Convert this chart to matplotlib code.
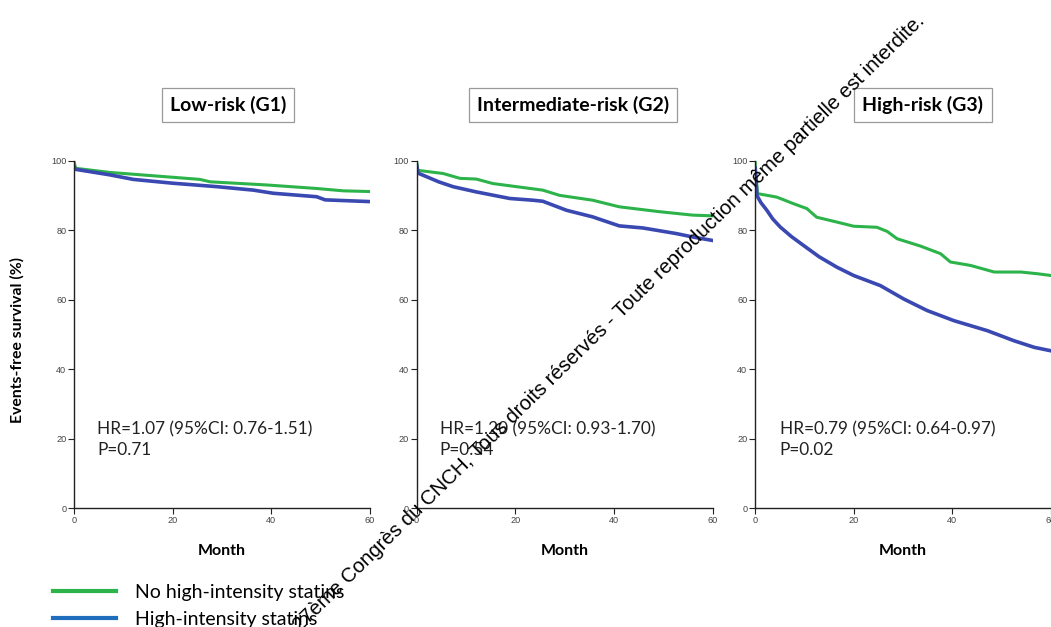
import numpy as np
import matplotlib
matplotlib.use('Agg')
import matplotlib.pyplot as plt
from matplotlib.lines import Line2D

# ---- data (month, event-free survival %) ----
panel_titles = ['Low-risk (G1)', 'Intermediate-risk (G2)', 'High-risk (G3)']
hr_texts = ['HR=1.07 (95%CI: 0.76-1.51)\nP=0.71',
            'HR=1.20 (95%CI: 0.93-1.70)\nP=0.54',
            'HR=0.79 (95%CI: 0.64-0.97)\nP=0.02']
series_names = ['No high-intensity statins', 'High-intensity statins']

g1_no_t = [0, 0.3, 7.3, 20.1, 25.5, 27.6, 39, 49, 54.6, 60]
g1_no_s = [100, 97.9, 96.7, 95.3, 94.7, 94.0, 93.1, 92.1, 91.4, 91.2]
g1_hi_t = [0, 0.3, 7.3, 12, 20, 29, 36.4, 40.4, 49.2, 50.9, 60]
g1_hi_s = [98.5, 97.6, 96.0, 94.7, 93.6, 92.6, 91.6, 90.7, 89.7, 88.8, 88.3]

g2_no_t = [0, 0.3, 5.4, 8.8, 12.1, 15.5, 25.6, 29, 35.7, 41.1, 49.2, 56, 60]
g2_no_s = [100, 97.3, 96.4, 95.0, 94.8, 93.5, 91.6, 90.1, 88.7, 86.8, 85.4, 84.4, 84.2]
g2_hi_t = [0, 0.3, 2, 4.5, 7.4, 12.1, 18.9, 23.6, 25.6, 30.4, 35.7, 41.1, 45.9, 52.6, 56, 60]
g2_hi_s = [99, 96.5, 95.5, 94.0, 92.6, 91.1, 89.2, 88.7, 88.4, 85.8, 83.9, 81.3, 80.7, 79.1, 78.1, 77.1]

g3_no_t = [0, 0.5, 4.4, 7.8, 10.5, 12.5, 16.6, 20, 24.7, 26.8, 28.8, 33.5, 37.6, 39.6,
           43.7, 48.5, 53.9, 57.3, 60]
g3_no_s = [100, 90.6, 89.6, 87.7, 86.3, 83.8, 82.4, 81.2, 80.9, 79.7, 77.6, 75.5, 73.3, 70.9,
           69.9, 68.0, 68.0, 67.5, 67.0]
g3_hi_t = [0, 0.4, 1.2, 2.4, 3.6, 5.1, 7.4, 9.8, 13, 16.6, 20, 25.4, 30.2, 34.9, 40.3,
           47.1, 52.5, 56.6, 60]
g3_hi_s = [98, 90.0, 88.0, 85.8, 83.3, 81.0, 78.2, 75.7, 72.4, 69.4, 67.0, 64.1, 60.2, 56.9,
           54.0, 51.1, 48.2, 46.3, 45.3]

curves = [((g1_no_t, g1_no_s), (g1_hi_t, g1_hi_s)),
          ((g2_no_t, g2_no_s), (g2_hi_t, g2_hi_s)),
          ((g3_no_t, g3_no_s), (g3_hi_t, g3_hi_s))]

x_ticks = [0, 20, 40, 60]
y_ticks = [0, 20, 40, 60, 80, 100]

green = '#2cb34a'
blue = '#3a48b2'
legend_blue = '#1f6dbd'

W, H = 1051, 627
fig = plt.figure(figsize=(W / 100, H / 100), dpi=100, facecolor='white')

ax_left = [74, 416.5, 755]
ax_w = 296
ax_top, ax_bot = 161, 508
title_cx = [228, 573, 923]

for i, left in enumerate(ax_left):
    ax = fig.add_axes([left / W, 1 - ax_bot / H, ax_w / W, (ax_bot - ax_top) / H])
    (nt, ns), (ht, hs) = curves[i]
    ax.plot(nt, ns, color=green, lw=2.2)
    ax.plot(ht, hs, color=blue, lw=2.6)
    ax.set_xlim(0, 60)
    ax.set_ylim(0, 100)
    ax.set_xticks(x_ticks)
    ax.set_yticks(y_ticks)
    for s in ['top', 'right']:
        ax.spines[s].set_visible(False)
    for s in ['left', 'bottom']:
        ax.spines[s].set_linewidth(1.0)
        ax.spines[s].set_color('#222222')
    ax.tick_params(labelsize=6.6, labelcolor='#444444', length=4, width=0.8, pad=1.5,
                   color='#222222')
    for lab in ax.get_xticklabels() + ax.get_yticklabels():
        lab.set_family('Liberation Sans')
    ax.patch.set_alpha(0)

    ax.text(0.078 if i < 2 else 0.084, 0.197, hr_texts[i], transform=ax.transAxes,
            family='Lato', fontsize=12.4, va='center', ha='left', linespacing=1.4,
            color='#222222')
    ax.text(0.5, -0.125, 'Month', transform=ax.transAxes, family='Lato',
            fontweight='bold', fontsize=11.5, ha='center', va='center')
    if i == 0:
        ax.text(-0.19, 0.484, 'Events-free survival (%)', transform=ax.transAxes,
                family='Lato', fontweight='bold', fontsize=11.3, rotation=90,
                ha='center', va='center')

    fig.text(title_cx[i] / W, 1 - 105 / H, panel_titles[i], family='Lato',
             fontweight='bold', fontsize=14, ha='center', va='center',
             bbox=dict(boxstyle='square,pad=0.42', fc='white', ec='#9a9a9a', lw=0.9))

# legend
handles = [Line2D([], [], color=green, lw=3),
           Line2D([], [], color=legend_blue, lw=3)]
fig.legend(handles, series_names, loc='lower left', bbox_to_anchor=(35 / W, -0.029),
           frameon=False, handlelength=3.25, handletextpad=1.0, labelspacing=0.5,
           prop={'family': 'Lato', 'size': 14})

# diagonal copyright notice
fig.text(609 / W, 1 - 323 / H,
         '27ème Congrès du CNCH, Tous droits réservés - Toute reproduction même partielle est interdite.',
         family='Liberation Sans', fontsize=14.7, rotation=44.3, rotation_mode='anchor',
         ha='center', va='center', color='black', zorder=10)

fig.savefig('out.png', dpi=100, facecolor='white')
